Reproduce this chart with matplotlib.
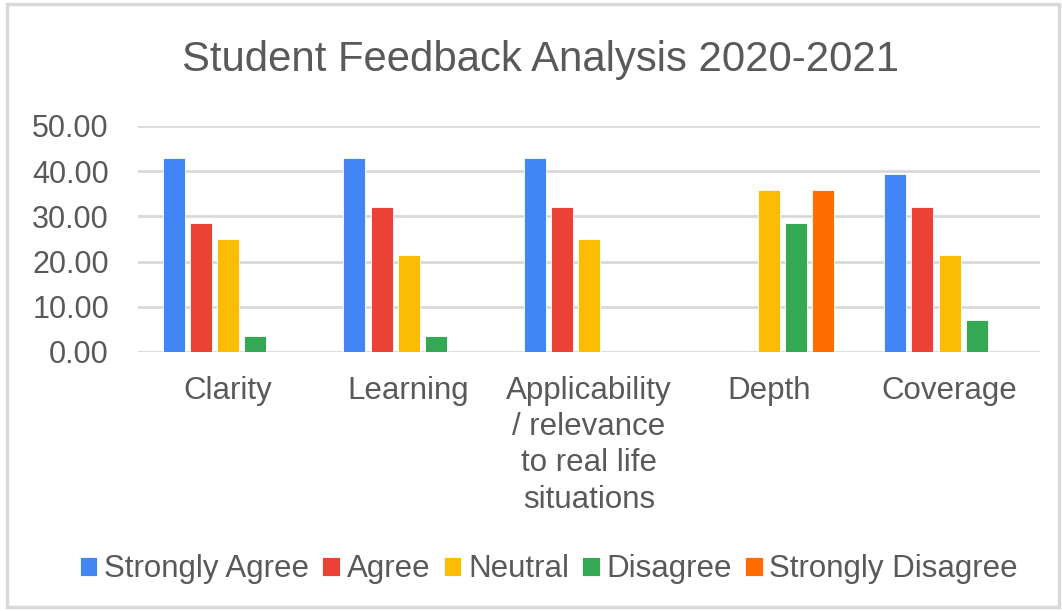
import numpy as np
import matplotlib
matplotlib.use('Agg')
import matplotlib.pyplot as plt
from matplotlib.patches import Rectangle

plt.rcParams['font.family'] = ['Liberation Sans', 'DejaVu Sans']

categories = ['Clarity', 'Learning', 'Applicability\n/ relevance\nto real life\nsituations', 'Depth', 'Coverage']
series_names = ['Strongly Agree', 'Agree', 'Neutral', 'Disagree', 'Strongly Disagree']
strongly_agree = [42.86, 42.86, 42.86, 0, 39.29]
agree = [28.57, 32.14, 32.14, 0, 32.14]
neutral = [25.00, 21.43, 25.00, 35.71, 21.43]
disagree = [3.57, 3.57, 0, 28.57, 7.14]
strongly_disagree = [0, 0, 0, 35.71, 0]
colors = ['#4285F4', '#EA4335', '#FBBC04', '#34A853', '#FF6D01']

text_color = '#595959'
grid_color = '#d9d9d9'

fig = plt.figure(figsize=(10.62, 6.11), dpi=100)
ax = fig.add_axes([0.13, 0.424, 0.849, 0.37])

x = np.arange(len(categories))
slot = 0.15
width = 0.122
all_series = [strongly_agree, agree, neutral, disagree, strongly_disagree]
for i, (name, vals) in enumerate(zip(series_names, all_series)):
    ax.bar(x + (i - 2) * slot, vals, width, color=colors[i], label=name,
           edgecolor='white', linewidth=0.6, zorder=3)

ax.set_xlim(-0.5, len(categories) - 0.5)
ax.set_ylim(0, 50)
ax.set_yticks(np.arange(0, 51, 10))
ax.set_yticklabels(['%.2f' % v for v in np.arange(0, 51, 10)])
ax.yaxis.grid(True, color=grid_color, linewidth=2, zorder=0)
ax.set_axisbelow(True)
for s in ['top', 'right', 'left', 'bottom']:
    ax.spines[s].set_visible(False)
ax.tick_params(axis='y', length=0, labelsize=22, labelcolor=text_color, pad=21)
ax.tick_params(axis='x', length=0, labelsize=22.5, labelcolor=text_color, pad=17)
ax.set_xticks(x)
ax.set_xticklabels(categories, linespacing=1.28)

fig.suptitle('Student Feedback Analysis 2020-2021', x=0.509, y=0.902, va='center',
             fontsize=30.2, color=text_color)

leg = fig.legend(loc='center', bbox_to_anchor=(0.517, 0.068), ncol=5, frameon=False,
                 fontsize=22.5, handlelength=0.56, handleheight=0.56, handletextpad=0.22,
                 columnspacing=0.42)
for t in leg.get_texts():
    t.set_color(text_color)

fig.patches.append(Rectangle((0.007, 0.007), 0.99, 0.986, transform=fig.transFigure,
                             fill=False, edgecolor=grid_color, linewidth=2.5))

fig.savefig('out.png', dpi=100)
